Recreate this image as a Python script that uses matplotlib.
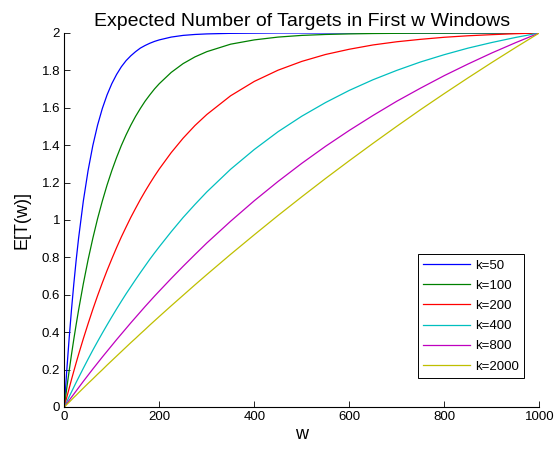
import matplotlib
matplotlib.use("Agg")
import matplotlib.pyplot as plt
from matplotlib.ticker import FormatStrFormatter

plt.rcParams['font.family'] = ['Liberation Sans', 'DejaVu Sans']

# window index w
w = [0, 5, 10, 15, 20, 25, 30, 40, 50, 60, 70, 80, 90, 100, 110, 120, 130, 140,
     150, 160, 170, 180, 190, 200, 225, 250, 275, 300, 350, 400, 450, 500, 550,
     600, 650, 700, 750, 800, 850, 900, 950, 1000]

# E[T(w)] for each k
k50 = [0, 0.190, 0.362, 0.518, 0.659, 0.787, 0.902, 1.101, 1.264, 1.398, 1.507,
       1.596, 1.669, 1.729, 1.778, 1.819, 1.852, 1.878, 1.900, 1.919, 1.933,
       1.945, 1.955, 1.963, 1.978, 1.987, 1.992, 1.995, 1.998, 1.999, 2.0, 2.0,
       2.0, 2.0, 2.0, 2.0, 2.0, 2.0, 2.0, 2.0, 2.0, 2.0]
k100 = [0, 0.098, 0.190, 0.279, 0.363, 0.442, 0.518, 0.659, 0.787, 0.902, 1.007,
        1.101, 1.187, 1.264, 1.334, 1.398, 1.455, 1.507, 1.554, 1.596, 1.635,
        1.669, 1.701, 1.729, 1.789, 1.836, 1.872, 1.900, 1.940, 1.963, 1.978,
        1.987, 1.992, 1.995, 1.997, 1.998, 1.999, 1.999, 2.0, 2.0, 2.0, 2.0]
k200 = [0, 0.050, 0.098, 0.146, 0.192, 0.237, 0.281, 0.365, 0.445, 0.522, 0.595,
        0.664, 0.730, 0.792, 0.852, 0.909, 0.962, 1.014, 1.062, 1.109, 1.153,
        1.195, 1.235, 1.273, 1.360, 1.437, 1.505, 1.564, 1.664, 1.741, 1.801,
        1.848, 1.885, 1.913, 1.936, 1.953, 1.966, 1.977, 1.985, 1.991, 1.996,
        2.0]
k400 = [0, 0.027, 0.054, 0.080, 0.106, 0.132, 0.157, 0.207, 0.256, 0.304, 0.350,
        0.395, 0.439, 0.482, 0.524, 0.565, 0.605, 0.643, 0.681, 0.718, 0.754,
        0.790, 0.824, 0.857, 0.937, 1.013, 1.083, 1.150, 1.271, 1.377, 1.472,
        1.555, 1.628, 1.693, 1.750, 1.800, 1.845, 1.884, 1.919, 1.949, 1.976,
        2.0]
k800 = [0, 0.018, 0.035, 0.052, 0.069, 0.086, 0.103, 0.137, 0.170, 0.203, 0.235,
        0.267, 0.298, 0.329, 0.360, 0.390, 0.420, 0.450, 0.479, 0.508, 0.537,
        0.565, 0.593, 0.620, 0.687, 0.752, 0.815, 0.877, 0.993, 1.103, 1.206,
        1.303, 1.394, 1.479, 1.559, 1.635, 1.705, 1.772, 1.834, 1.893, 1.948,
        2.0]
k2000 = [0, 0.013, 0.025, 0.038, 0.051, 0.063, 0.076, 0.101, 0.126, 0.150, 0.175,
         0.199, 0.224, 0.248, 0.272, 0.296, 0.320, 0.344, 0.367, 0.391, 0.414,
         0.438, 0.461, 0.484, 0.541, 0.597, 0.653, 0.708, 0.816, 0.921, 1.024,
         1.124, 1.222, 1.317, 1.410, 1.501, 1.590, 1.676, 1.760, 1.842, 1.922,
         2.0]

series = [k50, k100, k200, k400, k800, k2000]
labels = ['k=50', 'k=100', 'k=200', 'k=400', 'k=800', 'k=2000']
colors = ['#0000ff', '#008000', '#ff0000', '#00bfbf', '#bf00bf', '#bfbf00']

fig = plt.figure(figsize=(5.55, 4.51), dpi=100)
ax = fig.add_axes([0.1159, 0.0976, 0.8558, 0.8293])

for ys, lab, c in zip(series, labels, colors):
    ax.plot(w, ys, color=c, linewidth=0.9, label=lab)

ax.set_xlim(0, 1000)
ax.set_ylim(0, 2)
ax.set_xticks(range(0, 1001, 200))
ax.set_yticks([i * 0.2 for i in range(11)])
ax.yaxis.set_major_formatter(FormatStrFormatter('%g'))
ax.tick_params(direction='in', length=4, width=0.6, labelsize=9.5, pad=3)
ax.spines['top'].set_visible(False)
ax.spines['right'].set_visible(False)
ax.spines['left'].set_linewidth(0.8)
ax.spines['bottom'].set_linewidth(0.8)

ax.set_title('Expected Number of Targets in First w Windows', fontsize=14, pad=5)
ax.set_xlabel('w', fontsize=13, labelpad=2)
ax.set_ylabel('E[T(w)]', fontsize=13, labelpad=8)

leg = ax.legend(loc='lower right', bbox_to_anchor=(0.968, 0.078), borderaxespad=0,
                fontsize=9.5, handlelength=3.5, labelspacing=0.6, handletextpad=0.4,
                fancybox=False, framealpha=1, edgecolor='black')
leg.get_frame().set_linewidth(0.7)

fig.savefig('out.png', dpi=100)
